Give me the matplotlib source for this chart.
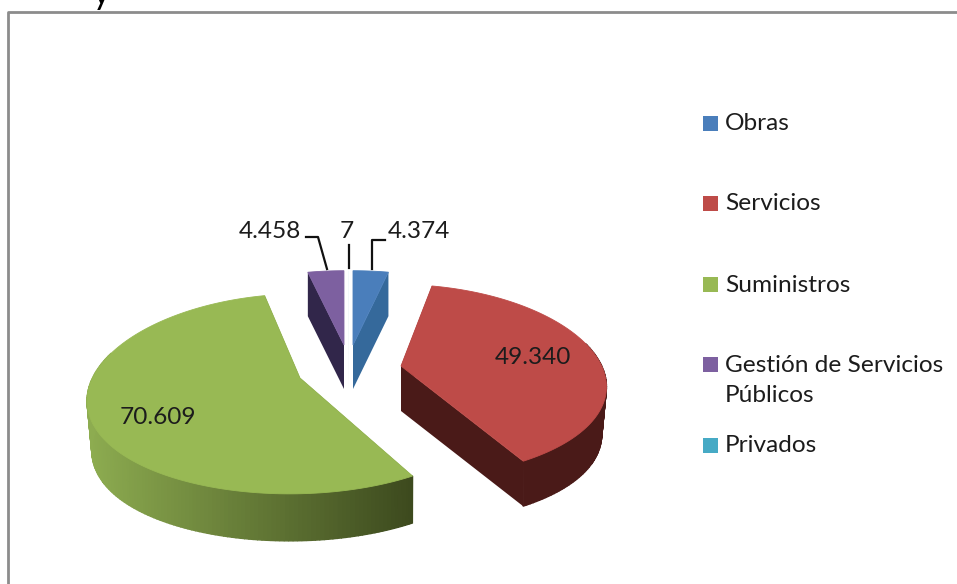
import numpy as np
import matplotlib
matplotlib.use('Agg')
import matplotlib.pyplot as plt
from matplotlib.colors import to_rgb

plt.rcParams['font.family'] = ['Lato', 'DejaVu Sans']

categories = ['Obras', 'Servicios', 'Suministros', 'Gestión de Servicios\nPúblicos', 'Privados']
values = [4374, 49340, 70609, 4458, 7]
value_labels = ['4.374', '49.340', '70.609', '4.458', '7']

top_colors = ['#4a7ebb', '#be4b48', '#98b954', '#7d60a0', '#46aac5']
side_colors = ['#35699b', '#4a1a18', '#3d4a1e', '#31264a', '#2f7488']

# where each exploded slice has its point, in pixels
apex_x = [353, 401, 300, 344, 349]
apex_y = [345, 366, 378, 345, 345]
# small per slice fixes to get close to the 3d look of the original
x_scale = [1, 1.015, 1.015, 1, 1]
y_scale = [0.91, 1, 1.03, 0.91, 0.91]
x_shift = [0, -2.3, -4.5, 0, 0]
x_shear = [0, -2.7, 6, 0, 0]
depths = [44, 45, 47, 44, 44]
text_color = '#1c1c1c'
font_size = 17.6


def project(ang, i):
    # clockwise from 12 o'clock, fake perspective so far side is narrower
    x = np.sin(ang)
    y = np.cos(ang)
    px = apex_x[i] + x_shift[i] + x_shear[i] * y + x_scale[i] * 200 * x / (1 + 0.2 * y)
    py = apex_y[i] - y_scale[i] * 94.6 * y / (1 + 0.159 * y)
    return px, py


def mix(c1, c2, t):
    c1 = np.array(to_rgb(c1))
    c2 = np.array(to_rgb(c2))
    return tuple(c1 + (c2 - c1) * t)


fig = plt.figure(figsize=(9.57, 5.84), dpi=100)
ax = fig.add_axes([0, 0, 1, 1])
ax.set_xlim(0, 957)
ax.set_ylim(584, 0)
ax.axis('off')

# page frame
ax.plot([8, 8, 957], [584, 12, 12], color='#8c8c8c', lw=2)
ax.text(101, 4, 'y', fontsize=24, color='black', ha='center', va='baseline')

total = sum(values)
edges = np.cumsum([0] + values) / total * 2 * np.pi

for i in range(len(values)):
    a0, a1 = edges[i], edges[i + 1]
    n = max(int(np.degrees(a1 - a0)), 1) + 1
    angs = np.linspace(a0, a1, n)
    sx, sy = project(angs, i)
    # rim pulled in a little at the far left/right
    bx = apex_x[i] + (sx - apex_x[i]) * (1 - 0.025 * np.sin(angs) ** 4)
    by = sy + depths[i]

    # cut faces
    for k in [0, -1]:
        ax.fill([apex_x[i], sx[k], bx[k], apex_x[i]],
                [apex_y[i], sy[k], by[k], apex_y[i] + depths[i]],
                color=side_colors[i], lw=0)

    # rim, only the part facing us
    for j in range(n - 1):
        if np.cos(angs[j]) > 0.25:
            continue
        if categories[i] == 'Suministros':
            # green rim goes from light at the left to dark at the right
            t = (sx[j] - 88) / (412 - 88)
            col = mix('#8dac50', side_colors[i], np.clip(t, 0, 1))
        else:
            col = side_colors[i]
        ax.fill([sx[j], sx[j + 1], bx[j + 1], bx[j]],
                [sy[j], sy[j + 1], by[j + 1], by[j]],
                color=col, lw=1)

    # top face, no outline on the tiny slice or it shows as a line
    ax.fill(np.r_[apex_x[i], sx], np.r_[apex_y[i], sy], color=top_colors[i],
            lw=0.6 if values[i] > 100 else 0)

# labels inside and leader lines
ax.text(533, 358, value_labels[1], fontsize=font_size, color=text_color, ha='center', va='center')
ax.text(158, 418, value_labels[2], fontsize=font_size, color=text_color, ha='center', va='center')
ax.text(270, 232, value_labels[3], fontsize=font_size, color=text_color, ha='center', va='center')
ax.text(347, 232, value_labels[4], fontsize=font_size, color=text_color, ha='center', va='center')
ax.text(419, 232, value_labels[0], fontsize=font_size, color=text_color, ha='center', va='center')

ax.plot([306, 318, 327], [237, 237, 269], color='#111111', lw=1.6)
ax.plot([349, 349], [245, 268], color='#111111', lw=1.6)
ax.plot([385, 372, 372], [240, 240, 269], color='#111111', lw=1.6)

# legend
legend_y = [123, 203, 284, 364, 445]
for i in range(len(categories)):
    ax.fill([703, 718, 718, 703], [legend_y[i] - 7.5, legend_y[i] - 7.5, legend_y[i] + 7.5, legend_y[i] + 7.5],
            color=top_colors[i], lw=0)
    if '\n' in categories[i]:
        ax.text(725, legend_y[i] - 9, categories[i], fontsize=font_size, color=text_color,
                ha='left', va='top', linespacing=1.5)
    else:
        ax.text(725, legend_y[i] + 1, categories[i], fontsize=font_size, color=text_color,
                ha='left', va='center')

fig.savefig('out.png', dpi=100)
